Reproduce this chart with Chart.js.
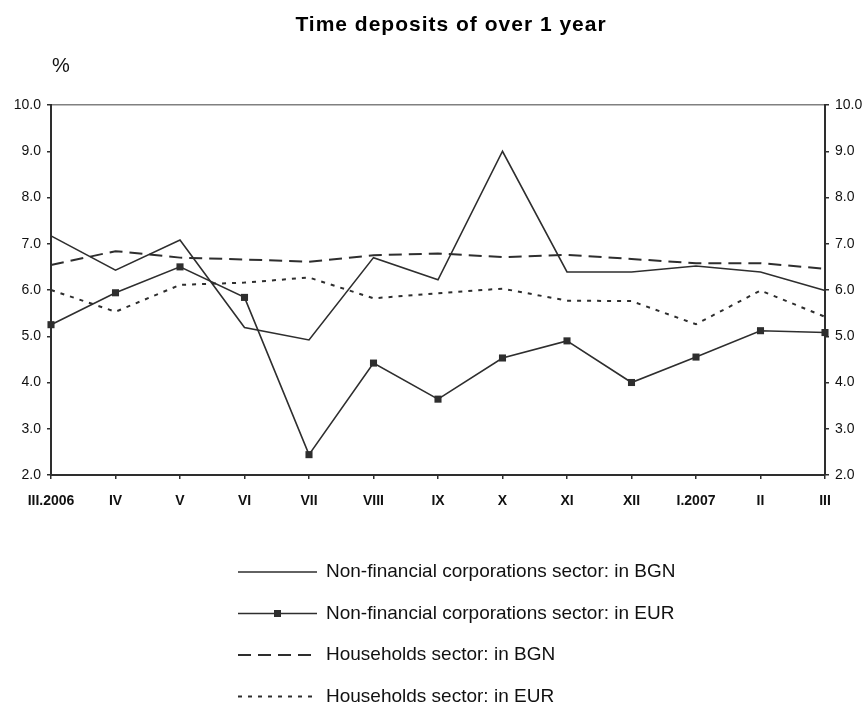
<!DOCTYPE html>
<html>
<head>
<meta charset="utf-8">
<script src="https://cdn.jsdelivr.net/npm/chart.js@4/dist/chart.umd.min.js"></script>
<style>
  body { margin: 0; background: #fff; }
  #wrap { width: 864px; height: 705px; position: relative; }
</style>
</head>
<body>
<div id="wrap"><canvas id="myChart"></canvas></div>
<script>
const months = ['III.2006', 'IV', 'V', 'VI', 'VII', 'VIII', 'IX', 'X', 'XI', 'XII', 'I.2007', 'II', 'III'];
const corpBgn = [7.17, 6.43, 7.08, 5.19, 4.92, 6.70, 6.22, 9.00, 6.39, 6.39, 6.52, 6.39, 5.99];
const corpEur = [5.25, 5.94, 6.50, 5.84, 2.44, 4.42, 3.64, 4.53, 4.90, 4.00, 4.55, 5.12, 5.08];
const hhBgn = [6.54, 6.84, 6.70, 6.66, 6.61, 6.75, 6.79, 6.71, 6.76, 6.67, 6.58, 6.58, 6.46];
const hhEur = [6.00, 5.53, 6.11, 6.16, 6.27, 5.82, 5.93, 6.03, 5.77, 5.76, 5.26, 5.99, 5.42];
const seriesNames = [
  'Non-financial corporations sector: in BGN',
  'Non-financial corporations sector: in EUR',
  'Households sector: in BGN',
  'Households sector: in EUR'
];
const chartTitle = 'Time deposits of over 1 year';

const ink = '#2e2e2e';
const fontFamily = '"Liberation Sans", Arial, sans-serif';

//Title, "%" unit and the stacked key under the chart
const keyPlugin = {
  id: 'stackedKey',
  afterDraw(chart) {
    const ctx = chart.ctx;
    ctx.save();
    ctx.fillStyle = '#000';
    ctx.font = 'bold 21px ' + fontFamily;
    ctx.letterSpacing = '1px';
    ctx.textAlign = 'center';
    ctx.textBaseline = 'alphabetic';
    ctx.fillText(chartTitle, 451, 31);
    ctx.letterSpacing = '0px';

    ctx.textAlign = 'left';
    ctx.fillStyle = '#111';
    ctx.font = '20px ' + fontFamily;
    ctx.fillText('%', 52, 72);

    ctx.font = '19px ' + fontFamily;
    ctx.textBaseline = 'middle';
    chart.data.datasets.forEach((ds, i) => {
      const y = 572 + i * 41.5;
      ctx.strokeStyle = ds.borderColor;
      ctx.lineWidth = ds.borderWidth;
      ctx.setLineDash(ds.borderDash || []);
      ctx.beginPath();
      ctx.moveTo(238, y);
      ctx.lineTo(317, y);
      ctx.stroke();
      ctx.setLineDash([]);
      if (ds.pointRadius > 0) {
        ctx.fillStyle = ds.borderColor;
        ctx.fillRect(274, y - 3.5, 7, 7);
      }
      ctx.fillStyle = '#111';
      ctx.fillText(ds.label, 326, y);
    });
    ctx.restore();
  }
};

const lineSet = (label, data, extra) => Object.assign({
  label: label,
  data: data,
  borderColor: ink,
  backgroundColor: ink,
  borderWidth: 1.6,
  pointRadius: 0,
  tension: 0,
  clip: false
}, extra);

const data = {
  labels: months,
  datasets: [
    lineSet(seriesNames[0], corpBgn),
    lineSet(seriesNames[1], corpEur, { pointStyle: 'rect', pointRadius: 5, pointBorderWidth: 0 }),
    lineSet(seriesNames[2], hhBgn, { borderDash: [13, 7], borderWidth: 2 }),
    lineSet(seriesNames[3], hhEur, { borderDash: [4, 6], borderWidth: 2 })
  ]
};

const yTicks = {
  stepSize: 1,
  color: '#111',
  padding: 6,
  font: { family: fontFamily, size: 14 },
  callback: value => value.toFixed(1)
};

const config = {
  type: 'line',
  data: data,
  plugins: [keyPlugin],
  options: {
    responsive: true,
    maintainAspectRatio: false,
    animation: false,
    layout: { padding: { left: 0, right: 0, top: 105, bottom: 0 } },
    plugins: {
      legend: { display: false },
      tooltip: { enabled: false },
      title: { display: false }
    },
    scales: {
      x: {
        grid: { drawOnChartArea: false, tickLength: 4, tickColor: ink, lineWidth: 1.5 },
        border: { color: ink, width: 2 },
        ticks: {
          color: '#111',
          padding: 14,
          maxRotation: 0,
          autoSkip: false,
          font: { family: fontFamily, size: 14, weight: 'bold' }
        },
        afterFit: scale => { scale.height = 230; }
      },
      y: {
        min: 2,
        max: 10,
        grid: {
          tickLength: 4,
          tickColor: ink,
          color: ctx => ctx.tick && ctx.tick.value === 10 ? '#808080' : 'rgba(0,0,0,0)',
          lineWidth: 1.5
        },
        border: { color: ink, width: 2 },
        ticks: yTicks,
        afterFit: scale => { scale.width = 51; }
      },
      y2: {
        position: 'right',
        min: 2,
        max: 10,
        grid: { drawOnChartArea: false, tickLength: 4, tickColor: ink, lineWidth: 1.5 },
        border: { color: ink, width: 2 },
        ticks: yTicks,
        afterFit: scale => { scale.width = 39; }
      }
    }
  }
};

const myChart = new Chart(document.getElementById('myChart'), config);
</script>
</body>
</html>
